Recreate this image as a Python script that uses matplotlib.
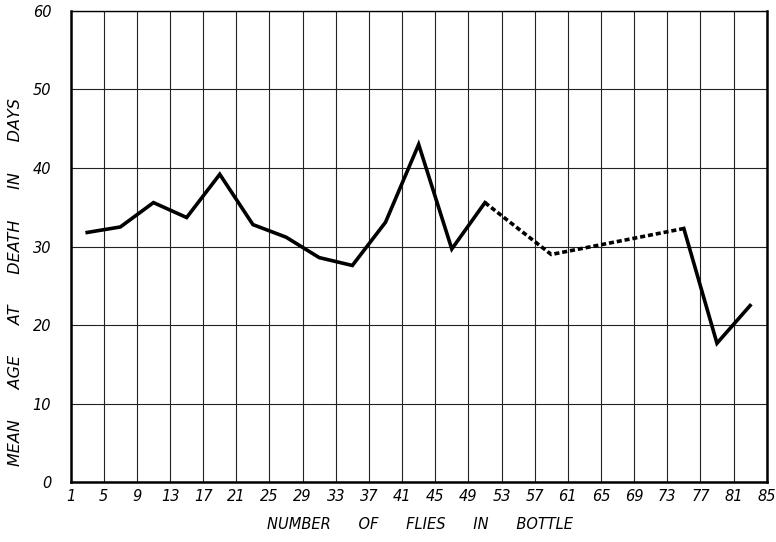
import matplotlib
matplotlib.use("Agg")
import matplotlib.pyplot as plt

# flies per bottle vs mean age at death
solid_a_x = [3, 7, 11, 15, 19, 23, 27, 31, 35, 39, 43, 47, 51]
solid_a_y = [31.8, 32.5, 35.6, 33.7, 39.2, 32.8, 31.2, 28.6, 27.6, 33.1, 43.0, 29.7, 35.6]
dotted_x = [51, 59, 75]
dotted_y = [35.6, 29.0, 32.3]
solid_b_x = [75, 79, 83]
solid_b_y = [32.3, 17.7, 22.5]

xticks = list(range(1, 86, 4))
yticks = [0, 10, 20, 30, 40, 50, 60]

fig = plt.figure(figsize=(7.76, 5.42), dpi=100)
ax = fig.add_axes([0.091, 0.110, 0.897, 0.870])

ax.plot(solid_a_x, solid_a_y, color="black", lw=2.6, solid_joinstyle="miter")
ax.plot(dotted_x, dotted_y, color="black", lw=2.6, ls=(0, (1.4, 0.8)))
ax.plot(solid_b_x, solid_b_y, color="black", lw=2.6, solid_joinstyle="miter")

ax.set_xlim(1, 85)
ax.set_ylim(0, 60)
ax.set_xticks(xticks)
ax.set_yticks(yticks)
ax.grid(True, color="#222222", lw=0.8)
ax.tick_params(length=0, labelsize=10.5)
ax.tick_params(axis="y", pad=14)
ax.tick_params(axis="x", pad=5)
for lab in ax.get_xticklabels() + ax.get_yticklabels():
    lab.set_fontstyle("italic")
for side in ["left", "bottom", "right"]:
    ax.spines[side].set_linewidth(1.8)
ax.spines["top"].set_linewidth(1.0)

fig.text(0.020, 0.48, "MEAN      AGE      AT      DEATH      IN      DAYS", rotation=90,
         ha="center", va="center", fontsize=11.5, fontstyle="italic")
fig.text(0.541, 0.032, "NUMBER      OF      FLIES      IN      BOTTLE",
         ha="center", va="center", fontsize=10.5, fontstyle="italic")

fig.savefig("out.png", dpi=100)
